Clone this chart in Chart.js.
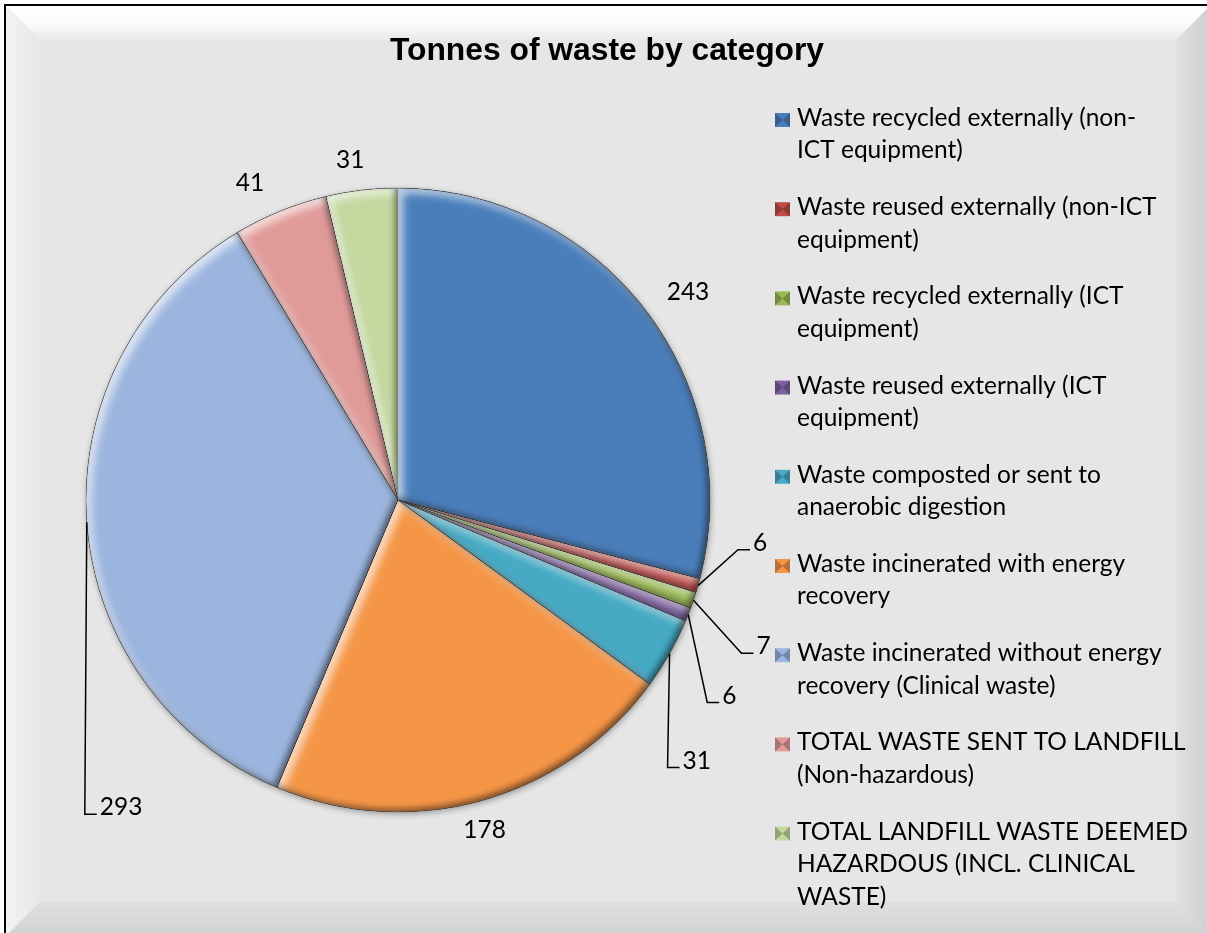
<!DOCTYPE html>
<html>
<head>
<meta charset="utf-8">
<title>Tonnes of waste by category</title>
<script src="https://cdn.jsdelivr.net/npm/chart.js@4.4.1/dist/chart.umd.min.js"></script>
<style>
  html, body { margin: 0; padding: 0; background: #fff; }
  canvas { display: block; }
</style>
</head>
<body>
<canvas id="wasteChart" width="1207" height="933"></canvas>
<script>
// legend text, already broken into lines
const categories = [
  ['Waste recycled externally (non-', 'ICT equipment)'],
  ['Waste reused externally (non-ICT', 'equipment)'],
  ['Waste recycled externally (ICT', 'equipment)'],
  ['Waste reused externally (ICT', 'equipment)'],
  ['Waste composted or sent to', 'anaerobic digestion'],
  ['Waste incinerated with energy', 'recovery'],
  ['Waste incinerated without energy', 'recovery (Clinical waste)'],
  ['TOTAL WASTE SENT TO LANDFILL', '(Non-hazardous)'],
  ['TOTAL LANDFILL WASTE DEEMED', 'HAZARDOUS (INCL. CLINICAL', 'WASTE)']
];
const tonnes = [243, 6, 7, 6, 31, 178, 293, 41, 31];
const sliceColours = ['#4a7ebb', '#be4b48', '#98b954', '#7d60a0', '#46aac5', '#f59647', '#9cb5de', '#e09b99', '#c4d8a0'];

const chartTitle = 'Tonnes of waste by category';

// value label placement: small nudge from the default spot, or an elbow for a leader line
const labelNudge = [[13, 6], null, null, null, null, [-7, -7], null, [-16, 7], [-7, 8]];
const leaderElbow = [null, [40, -36], [48, 53], [19, 88], [-2, 114], null, [-2, 292], null, null];

const textFont = '24.5px Lato, "Open Sans", sans-serif';

const framePlugin = {
  id: 'frame',
  beforeDraw(chart) {
    const ctx = chart.ctx;
    const W = chart.width, H = chart.height;
    const x0 = 6, y0 = 6, x1 = W + 3, y1 = H + 3, b = 34;
    ctx.save();
    ctx.fillStyle = '#ffffff';
    ctx.fillRect(0, 0, W, H);
    ctx.fillStyle = '#e6e6e6';
    ctx.fillRect(x0, y0, x1 - x0, y1 - y0);

    const quad = (pts, grad) => {
      ctx.beginPath();
      ctx.moveTo(pts[0][0], pts[0][1]);
      for (let i = 1; i < pts.length; i++) ctx.lineTo(pts[i][0], pts[i][1]);
      ctx.closePath();
      ctx.fillStyle = grad;
      ctx.fill();
    };
    let g = ctx.createLinearGradient(0, y0, 0, y0 + b);
    g.addColorStop(0, '#ffffff'); g.addColorStop(0.5, '#fbfbfb'); g.addColorStop(1, '#e9e9e9');
    quad([[x0, y0], [x1, y0], [x1 - b, y0 + b], [x0 + b, y0 + b]], g);
    g = ctx.createLinearGradient(x0, 0, x0 + b, 0);
    g.addColorStop(0, '#f3f3f3'); g.addColorStop(1, '#e7e7e7');
    quad([[x0, y0], [x0 + b, y0 + b], [x0 + b, y1 - b], [x0, y1]], g);
    g = ctx.createLinearGradient(x1 - b, 0, x1, 0);
    g.addColorStop(0, '#e0e0e0'); g.addColorStop(1, '#cfcfcf');
    quad([[x1, y0], [x1, y1], [x1 - b, y1 - b], [x1 - b, y0 + b]], g);
    g = ctx.createLinearGradient(0, y1 - b, 0, y1);
    g.addColorStop(0, '#dfdfdf'); g.addColorStop(1, '#d2d2d2');
    quad([[x0, y1], [x0 + b, y1 - b], [x1 - b, y1 - b], [x1, y1]], g);

    ctx.strokeStyle = '#000';
    ctx.lineWidth = 2;
    ctx.strokeRect(5, 5, W + 10, H + 10);

    ctx.font = 'bold 31.8px "Liberation Sans", Arial, sans-serif';
    ctx.fillStyle = '#000';
    ctx.textAlign = 'center';
    ctx.textBaseline = 'middle';
    ctx.fillText(chartTitle, 607, 51);
    ctx.restore();
  },
  beforeDatasetsDraw(chart) {
    // soft shadow under the whole pie
    const arc = chart.getDatasetMeta(0).data[0];
    if (!arc) return;
    const { x, y, outerRadius } = arc.getProps(['x', 'y', 'outerRadius'], true);
    const ctx = chart.ctx;
    ctx.save();
    ctx.shadowColor = 'rgba(0,0,0,0.35)';
    ctx.shadowBlur = 6;
    ctx.shadowOffsetX = 1;
    ctx.shadowOffsetY = 2;
    ctx.beginPath();
    ctx.arc(x, y, outerRadius, 0, Math.PI * 2);
    ctx.fillStyle = '#999';
    ctx.fill();
    ctx.restore();
  }
};

// bevel look: light inner glow on upper-left edges, dark on lower-right
const bevelPlugin = {
  id: 'bevel',
  afterDatasetsDraw(chart) {
    const ctx = chart.ctx;
    chart.getDatasetMeta(0).data.forEach(arc => {
      const p = arc.getProps(['x', 'y', 'startAngle', 'endAngle', 'outerRadius'], true);
      const slicePath = () => {
        ctx.moveTo(p.x, p.y);
        ctx.arc(p.x, p.y, p.outerRadius, p.startAngle, p.endAngle);
        ctx.closePath();
      };
      const shade = (colour, dx, dy, blur) => {
        ctx.save();
        ctx.beginPath();
        ctx.rect(-3000, -3000, 8000, 8000);
        slicePath();
        ctx.shadowColor = colour;
        ctx.shadowOffsetX = dx;
        ctx.shadowOffsetY = dy;
        ctx.shadowBlur = blur;
        ctx.fillStyle = '#000';
        ctx.fill('evenodd');
        ctx.restore();
      };
      ctx.save();
      ctx.beginPath();
      slicePath();
      ctx.clip();
      shade('rgba(255,255,255,0.7)', 5, 5, 8);
      shade('rgba(0,0,0,0.5)', -3, -3, 6);
      ctx.restore();
    });
    const first = chart.getDatasetMeta(0).data[0];
    if (first) {
      ctx.save();
      ctx.beginPath();
      ctx.arc(first.x, first.y, first.outerRadius, 0, Math.PI * 2);
      ctx.strokeStyle = 'rgba(90,90,90,0.35)';
      ctx.lineWidth = 1;
      ctx.stroke();
      ctx.restore();
    }
  }
};

const valueLabelPlugin = {
  id: 'valueLabels',
  afterDatasetsDraw(chart) {
    const ctx = chart.ctx;
    const values = chart.data.datasets[0].data;
    ctx.save();
    ctx.font = textFont;
    ctx.fillStyle = '#000';
    ctx.strokeStyle = '#000';
    ctx.lineWidth = 1.5;
    chart.getDatasetMeta(0).data.forEach((arc, i) => {
      const p = arc.getProps(['x', 'y', 'startAngle', 'endAngle', 'outerRadius'], true);
      const mid = (p.startAngle + p.endAngle) / 2;
      const text = String(values[i]);
      const elbow = leaderElbow[i];
      if (elbow) {
        const sx = p.x + Math.cos(mid) * p.outerRadius;
        const sy = p.y + Math.sin(mid) * p.outerRadius;
        const ex = sx + elbow[0], ey = sy + elbow[1];
        ctx.beginPath();
        ctx.moveTo(sx, sy);
        ctx.lineTo(ex, ey);
        ctx.lineTo(ex + 12, ey);
        ctx.stroke();
        ctx.textAlign = 'left';
        ctx.textBaseline = 'alphabetic';
        ctx.fillText(text, ex + 15, ey + 1);
      } else {
        const r = p.outerRadius + 38;
        const nudge = labelNudge[i] || [0, 0];
        ctx.textAlign = 'center';
        ctx.textBaseline = 'middle';
        ctx.fillText(text, p.x + Math.cos(mid) * r + nudge[0], p.y + Math.sin(mid) * r + nudge[1]);
      }
    });
    ctx.restore();
  }
};

const legendPlugin = {
  id: 'sideLegend',
  afterDraw(chart) {
    const ctx = chart.ctx;
    const colours = chart.data.datasets[0].backgroundColor;
    const left = 775, top = 118, lineH = 32.5, itemGap = 89.2;
    ctx.save();
    ctx.font = textFont;
    ctx.textAlign = 'left';
    ctx.textBaseline = 'middle';
    categories.forEach((lines, i) => {
      const y = top + i * itemGap;
      ctx.fillStyle = colours[i];
      ctx.fillRect(left, y - 5, 15, 14);
      ctx.fillStyle = 'rgba(0,0,0,0.25)';
      ctx.beginPath();
      ctx.moveTo(left, y - 5); ctx.lineTo(left + 7.5, y + 2); ctx.lineTo(left, y + 9);
      ctx.closePath(); ctx.fill();
      ctx.beginPath();
      ctx.moveTo(left + 15, y - 5); ctx.lineTo(left + 7.5, y + 2); ctx.lineTo(left + 15, y + 9);
      ctx.closePath(); ctx.fill();
      ctx.fillStyle = '#000';
      lines.forEach((line, j) => ctx.fillText(line, left + 22, y + j * lineH));
    });
    ctx.restore();
  }
};

new Chart(document.getElementById('wasteChart'), {
  type: 'pie',
  data: {
    labels: categories.map(l => l.join(' ').replace('- ', '-')),
    datasets: [{
      data: tonnes,
      backgroundColor: sliceColours,
      borderWidth: 0
    }]
  },
  options: {
    responsive: false,
    animation: false,
    events: [],
    radius: 312,
    layout: { padding: { left: 86, right: 497, top: 188, bottom: 121 } },
    plugins: {
      legend: { display: false },
      title: { display: false },
      tooltip: { enabled: false }
    }
  },
  plugins: [framePlugin, bevelPlugin, valueLabelPlugin, legendPlugin]
});
</script>
</body>
</html>
